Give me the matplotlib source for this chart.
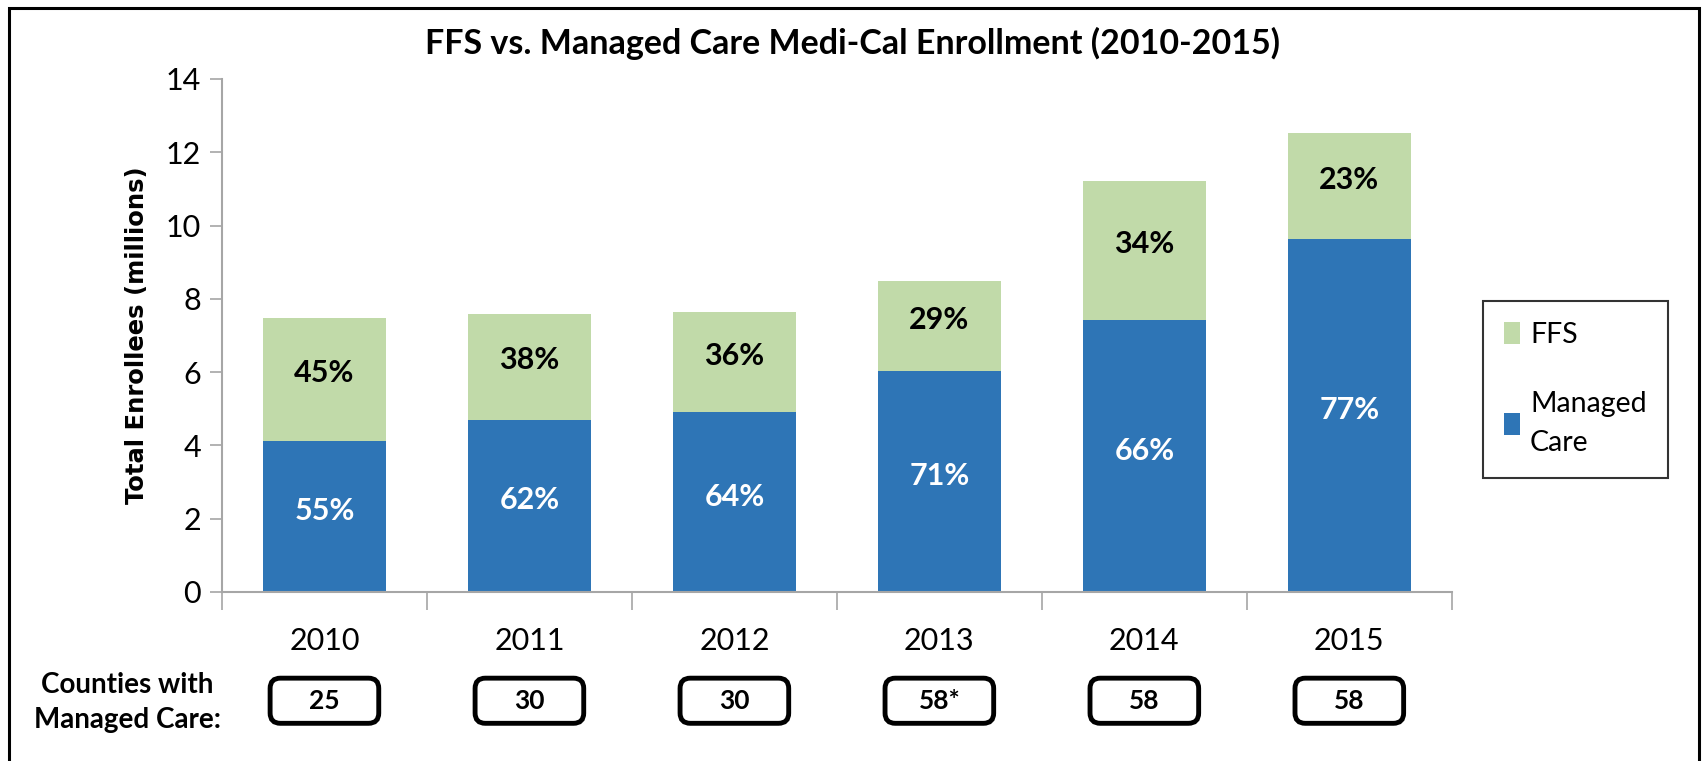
import numpy as np
import matplotlib.pyplot as plt
from matplotlib.patches import FancyBboxPatch, Rectangle
import matplotlib.transforms as mtransforms

years = ["2010", "2011", "2012", "2013", "2014", "2015"]
managed = [4.12, 4.70, 4.90, 6.03, 7.42, 9.62]
ffs_top = [7.47, 7.60, 7.63, 8.50, 11.22, 12.53]
ffs = [t - m for t, m in zip(ffs_top, managed)]
managed_pct = ["55%", "62%", "64%", "71%", "66%", "77%"]
ffs_pct = ["45%", "38%", "36%", "29%", "34%", "23%"]
counties = ["25", "30", "30", "58*", "58", "58"]

blue = "#2E75B6"
green = "#C1DAA9"
axis_grey = "#A6A6A6"

plt.rcParams['font.family'] = ['Lato', 'DejaVu Sans']

fig = plt.figure(figsize=(17.02, 7.61), dpi=100)
ax = fig.add_axes([0.1304, 0.2221, 0.7226, 0.6741])

x = np.arange(len(years))
ax.bar(x, managed, width=0.6, color=blue, label="Managed\nCare", zorder=2)
ax.bar(x, ffs, width=0.6, bottom=managed, color=green, label="FFS", zorder=2)

# percentage labels, a bit above the middle of each segment like excel does
for i in range(len(years)):
    ax.text(x[i], managed[i] / 2 + 0.15, managed_pct[i], ha="center", va="center",
            color="white", fontsize=22, fontweight="bold")
    ax.text(x[i], managed[i] + ffs[i] / 2 + 0.17, ffs_pct[i], ha="center", va="center",
            color="black", fontsize=22, fontweight="bold")

ax.set_xlim(-0.5, 5.5)
ax.set_ylim(0, 14)
ax.set_yticks(np.arange(0, 15, 2))
ax.tick_params(axis="y", labelsize=22, length=9, width=1.2, color=axis_grey, pad=6)
ax.set_xticks(np.arange(-0.5, 6, 1))
ax.set_xticklabels([])
ax.tick_params(axis="x", length=13, width=1.2, color=axis_grey)
for sp in ["top", "right"]:
    ax.spines[sp].set_visible(False)
for sp in ["left", "bottom"]:
    ax.spines[sp].set_color(axis_grey)
    ax.spines[sp].set_linewidth(1.5)

# year labels under the axis
trans = mtransforms.blended_transform_factory(ax.transData, ax.transAxes)
for i, yr in enumerate(years):
    ax.text(x[i], -0.095, yr, transform=trans, ha="center", va="center", fontsize=22)

ax.set_ylabel("Total Enrollees (millions)", fontsize=17.5, fontweight="bold",
              family="DejaVu Sans", labelpad=12)

# counties boxes
for i, c in enumerate(counties):
    box = FancyBboxPatch((x[i] - 0.265, -0.256), 0.53, 0.088,
                         boxstyle="round,pad=0,rounding_size=0.05",
                         mutation_aspect=0.4, transform=trans, clip_on=False,
                         facecolor="white", edgecolor="black", linewidth=3.5)
    ax.add_patch(box)
    ax.text(x[i], -0.212, c, transform=trans, ha="center", va="center",
            fontsize=19, fontweight="bold")

fig.text(0.075, 0.077, "Counties with\nManaged Care:", ha="center", va="center",
         fontsize=20, fontweight="bold", linespacing=1.4)

fig.text(0.5006, 0.9435, "FFS vs. Managed Care Medi-Cal Enrollment (2010-2015)",
         ha="center", va="center", fontsize=24.5, fontweight="bold")

handles, labels = ax.get_legend_handles_labels()
leg = fig.legend(handles[::-1], labels[::-1], loc="upper left",
                 bbox_to_anchor=(0.8713, 0.605), borderaxespad=0, fontsize=20.5,
                 frameon=True, fancybox=False, edgecolor="black", handlelength=0.55,
                 handleheight=0.8, handletextpad=0.35, labelspacing=1.5,
                 borderpad=0.75)
leg.get_frame().set_linewidth(1.5)
for t in leg.get_texts():
    t.set_linespacing(1.65)

fig.patches.append(Rectangle((0.005, -0.02), 0.993, 1.0095, transform=fig.transFigure,
                             fill=False, edgecolor="black", linewidth=2.2))

fig.savefig("out.png", dpi=100)
